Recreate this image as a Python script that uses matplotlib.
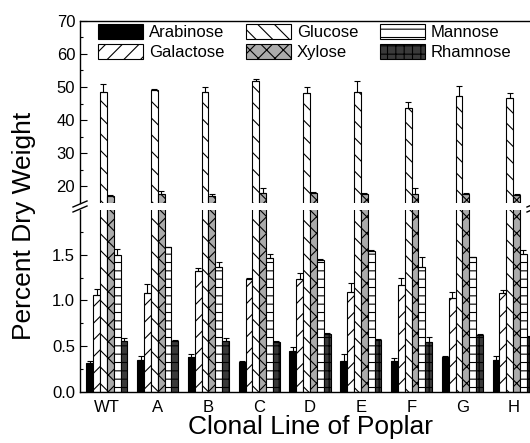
import numpy as np
import matplotlib
matplotlib.use("Agg")
import matplotlib.pyplot as plt
from matplotlib.lines import Line2D

plt.rcParams['font.family'] = ['Liberation Sans', 'DejaVu Sans']
plt.rcParams['hatch.linewidth'] = 0.8

# sugar composition (% dry weight), mean and s.d. per clonal line
groups = ['WT', 'A', 'B', 'C', 'D', 'E', 'F', 'G', 'H']
arabinose = [0.31, 0.35, 0.38, 0.33, 0.45, 0.34, 0.34, 0.38, 0.35]
arabinose_err = [0.03, 0.04, 0.03, 0.01, 0.04, 0.07, 0.03, 0.01, 0.04]
galactose = [1.06, 1.08, 1.32, 1.23, 1.23, 1.09, 1.17, 1.03, 1.08]
galactose_err = [0.07, 0.10, 0.04, 0.01, 0.07, 0.10, 0.08, 0.06, 0.03]
glucose = [48.4, 49.2, 48.6, 51.9, 48.1, 48.4, 43.7, 47.4, 46.6]
glucose_err = [2.4, 0.3, 1.3, 0.5, 2.0, 3.5, 1.7, 2.8, 1.6]
xylose = [17.1, 17.6, 17.0, 17.9, 18.1, 17.6, 17.6, 17.8, 17.4]
xylose_err = [0.2, 1.0, 0.8, 1.5, 0.3, 0.3, 2.0, 0.3, 0.4]
mannose = [1.50, 1.58, 1.37, 1.46, 1.44, 1.54, 1.37, 1.47, 1.51]
mannose_err = [0.06, 0.01, 0.05, 0.05, 0.01, 0.01, 0.11, 0.01, 0.04]
rhamnose = [0.56, 0.56, 0.56, 0.54, 0.63, 0.57, 0.54, 0.62, 0.60]
rhamnose_err = [0.03, 0.01, 0.03, 0.02, 0.01, 0.01, 0.06, 0.01, 0.01]

series = [
    ("Arabinose", arabinose, arabinose_err, dict(color='black', hatch=None)),
    ("Galactose", galactose, galactose_err, dict(color='white', hatch='//')),
    ("Glucose", glucose, glucose_err, dict(color='white', hatch='\\\\')),
    ("Xylose", xylose, xylose_err, dict(color='#ababab', hatch='xx')),
    ("Mannose", mannose, mannose_err, dict(color='white', hatch='--')),
    ("Rhamnose", rhamnose, rhamnose_err, dict(color='#3a3a3a', hatch='++')),
]

W, H = 530, 443
fig = plt.figure(figsize=(W / 100, H / 100), dpi=100)

# broken y axis: two panels sharing x
left = 80 / W
width = 454 / W
ax_top = fig.add_axes([left, 1 - 203 / H, width, (203 - 20.7) / H])
ax_bot = fig.add_axes([left, 1 - 391.7 / H, width, (391.7 - 210) / H])

x = np.arange(len(groups))
bw = 0.135
for ax in (ax_top, ax_bot):
    for i, (name, vals, errs, st) in enumerate(series):
        pos = x + (i - 2.5) * bw
        ax.bar(pos, vals, bw, color=st['color'], hatch=st['hatch'],
               edgecolor='black', linewidth=0.8, label=name, zorder=2)
        ax.errorbar(pos, vals, yerr=[np.zeros(len(vals)), errs], fmt='none',
                    ecolor='black', elinewidth=0.8, capsize=2.5, capthick=0.8, zorder=3)
    ax.set_xlim(-0.53, 8.41)
    ax.tick_params(axis='y', direction='in', length=5, width=0.8, labelsize=12)
    ax.tick_params(axis='y', which='minor', direction='in', length=2.5, width=0.8)
    ax.tick_params(axis='x', length=0)
    for s in ax.spines.values():
        s.set_linewidth(1.0)

ax_top.set_ylim(15, 70)
ax_top.set_yticks([20, 30, 40, 50, 60, 70])
ax_top.set_yticks(np.arange(25, 70, 10), minor=True)
ax_top.spines['bottom'].set_visible(False)
ax_top.set_xticks([])

ax_bot.set_ylim(0, 1.99)
ax_bot.set_yticks([0.0, 0.5, 1.0, 1.5])
ax_bot.set_yticks([0.25, 0.75, 1.25, 1.75], minor=True)
ax_bot.set_yticklabels(['0.0', '0.5', '1.0', '1.5'])
ax_bot.spines['top'].set_visible(False)
ax_bot.set_xticks(x)
ax_bot.set_xticklabels(groups, fontsize=12)
ax_bot.tick_params(axis='x', pad=6)

ax_top.legend(ncol=3, loc='upper left', bbox_to_anchor=(18 / 454, 1 - 3 / 182.3),
              frameon=False, fontsize=12, handlelength=2.7, handleheight=1.0,
              handletextpad=0.35, columnspacing=1.3, labelspacing=0.25,
              borderpad=0, borderaxespad=0)

# break marks on the y axis
def px(xp, yp):
    return xp / W, 1 - yp / H

for xs in (80, 534):
    for yc in (204, 209):
        (x0, y0), (x1, y1) = px(xs - 7, yc + 3), px(xs + 7, yc - 3)
        fig.add_artist(Line2D([x0, x1], [y0, y1], color='black', lw=1.0))

fig.text(24 / W, 1 - 226 / H, 'Percent Dry Weight', rotation=90,
         ha='center', va='center', fontsize=19)
fig.text(310 / W, 1 - 427 / H, 'Clonal Line of Poplar', ha='center', va='center', fontsize=19)

fig.savefig('out.png', dpi=100)
